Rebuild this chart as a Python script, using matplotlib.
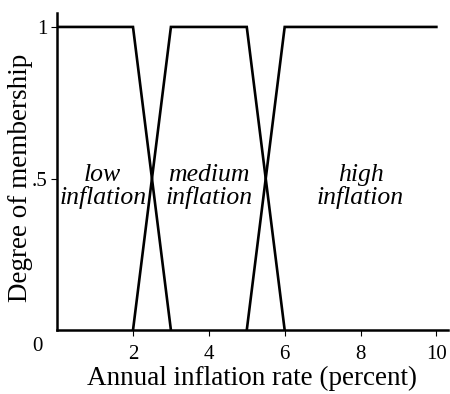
import matplotlib.pyplot as plt

plt.rcParams['font.family'] = ['Liberation Serif', 'DejaVu Serif']

# membership functions (breakpoints)
low_x = [0, 2, 3]
low_y = [1, 1, 0]
med_x = [2, 3, 5, 6]
med_y = [0, 1, 1, 0]
high_x = [5, 6, 10]
high_y = [0, 1, 1]

labels = ["low\ninflation", "medium\ninflation", "high\ninflation"]
label_x = [1.2, 4.0, 8.0]

xticks = [2, 4, 6, 8, 10]
yticks = [0.5, 1]
ytick_labels = [".5", "1"]

fig = plt.figure(figsize=(4.5, 3.94), dpi=100)
ax = fig.add_axes([0.127, 0.162, 0.868, 0.805])

for xs, ys in [(low_x, low_y), (med_x, med_y), (high_x, high_y)]:
    ax.plot(xs, ys, color="black", lw=1.9, solid_joinstyle="miter")

for lx, lab in zip(label_x, labels):
    ax.text(lx, 0.475, lab, ha="center", va="center", fontsize=18.5,
            style="italic", linespacing=1.0)

ax.set_xlim(0, 10.3)
ax.set_ylim(0, 1.046)
ax.set_xticks(xticks)
ax.set_yticks(yticks)
ax.set_yticklabels(ytick_labels)
ax.tick_params(labelsize=15, width=0.8, length=4, direction="out")
ax.tick_params(axis="x", pad=7)
ax.tick_params(axis="y", pad=3)
ax.text(-0.38, -0.055, "0", ha="right", va="center", fontsize=15)

for s in ["top", "right"]:
    ax.spines[s].set_visible(False)
for s in ["left", "bottom"]:
    ax.spines[s].set_linewidth(1.8)

ax.set_xlabel("Annual inflation rate (percent)", fontsize=19.5, labelpad=1)
ax.set_ylabel("Degree of membership", fontsize=19.5, labelpad=0)
ax.yaxis.set_label_coords(-0.062, 0.48)

fig.savefig("out.png", dpi=100)
